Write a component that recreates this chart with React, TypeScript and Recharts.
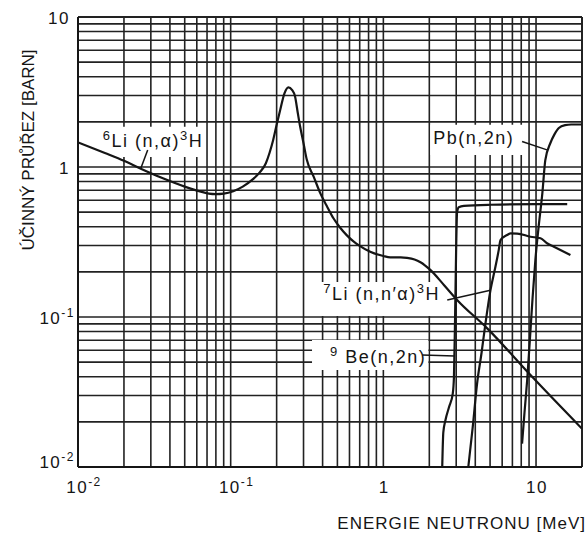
import React from 'react';
import {
    LineChart,
    Line,
    XAxis,
    YAxis,
    CartesianGrid,
    ReferenceArea,
    ReferenceLine
} from 'recharts';

// energies in MeV, cross sections in barn
const li6Energy = [0.01, 0.015, 0.02, 0.026, 0.035, 0.05, 0.062, 0.072, 0.08, 0.09, 0.104, 0.12, 0.14, 0.155, 0.17, 0.18, 0.19, 0.2, 0.211, 0.225, 0.239, 0.252, 0.264, 0.275, 0.285, 0.3, 0.315, 0.35, 0.386, 0.43, 0.471, 0.52, 0.577, 0.64, 0.7, 0.82, 1.0, 1.11, 1.3, 1.43, 1.6, 1.75, 2.03, 2.5, 3.04, 4.79, 9.2, 20];
const li6Sigma = [1.46, 1.24, 1.1, 0.97, 0.85, 0.74, 0.69, 0.665, 0.66, 0.665, 0.69, 0.74, 0.83, 0.92, 1.06, 1.25, 1.52, 1.91, 2.4, 3.1, 3.4, 3.27, 2.95, 2.3, 1.86, 1.44, 1.12, 0.86, 0.67, 0.54, 0.455, 0.395, 0.35, 0.318, 0.298, 0.272, 0.255, 0.25, 0.25, 0.248, 0.242, 0.232, 0.206, 0.163, 0.13, 0.084, 0.041, 0.018];

const be9Energy = [2.43, 2.47, 2.55, 2.69, 2.85, 2.9, 2.95, 3.0, 3.04, 3.12, 3.37, 5, 10, 16];
const be9Sigma = [0.01, 0.017, 0.0205, 0.025, 0.031, 0.04, 0.1, 0.3, 0.5, 0.54, 0.55, 0.56, 0.565, 0.565];

const li7Energy = [3.6, 3.85, 4.11, 4.4, 4.66, 5.03, 5.42, 5.7, 5.85, 6.47, 6.81, 7.53, 9.2, 10.7, 11.8, 13, 16.8];
const li7Sigma = [0.01, 0.0185, 0.036, 0.058, 0.09, 0.151, 0.216, 0.28, 0.326, 0.352, 0.361, 0.36, 0.343, 0.335, 0.31, 0.295, 0.259];

const pbEnergy = [8.1, 8.4, 8.75, 9.2, 9.5, 9.9, 10.4, 11.0, 11.5, 12.4, 13.2, 14.1, 15.5, 17, 20];
const pbSigma = [0.0143, 0.023, 0.038, 0.082, 0.136, 0.24, 0.4, 0.67, 1.11, 1.44, 1.65, 1.82, 1.9, 1.92, 1.92];

const xDecades = [0.01, 0.1, 1, 10];
const xDecadeLabels = [['10', '-2'], ['10', '-1'], ['1', ''], ['10', '']];
const yDecades = [0.01, 0.1, 1, 10];
const yDecadeLabels = [['10', '-2'], ['10', '-1'], ['1', ''], ['10', '']];

const xGrid = [0.01, 0.1, 1].flatMap(d => [1, 2, 3, 4, 5, 6, 7, 8, 9].map(k => +(k * d).toPrecision(3))).concat([10, 20]);
const yGrid = [0.01, 0.1, 1].flatMap(d => [1, 2, 3, 4, 5, 6, 7, 8, 9].map(k => +(k * d).toPrecision(3))).concat([10]);

const toPoints = (es: number[], ss: number[]) => es.map((e, i) => ({ e, s: ss[i] }));

const FONT = '"Liberation Sans", Arial, sans-serif';
const INK = '#151515';

type Part = [string, boolean];

// label boxes: [x1, x2, y1, y2] in MeV / barn, text parts, left pad, baseline from box top
const labels: { box: number[]; parts: Part[]; pad: number; base: number }[] = [
    { box: [0.01388, 0.0668, 1.168, 1.853], parts: [['6', true], ['Li (n,α)', false], ['3', true], ['H', false]], pad: 3, base: 20 },
    { box: [2.03, 8.41, 1.2, 1.91], parts: [['Pb(n,2n)', false]], pad: 3, base: 19 },
    { box: [0.374, 2.71, 0.1014, 0.171], parts: [['7', true], ['Li (n,n′α)', false], ['3', true], ['H', false]], pad: 5, base: 18 },
    { box: [0.341, 1.97, 0.0443, 0.0702], parts: [['9', true], [' Be(n,2n)', false]], pad: 18, base: 23 }
];

const leaders = [
    [[0.0286, 1.3], [0.0258, 0.98]],
    [[8.1, 1.48], [11.8, 1.3]],
    [[2.62, 0.13], [5.03, 0.151]],
    [[1.8, 0.0557], [2.93, 0.055]]
];

function RichText({ x, y, parts }: { x: number; y: number; parts: Part[] }) {
    let prevSup = false;
    return (
        <text x={x} y={y} fontFamily={FONT} fontSize={18} letterSpacing={1.5} fill={INK}>
            {parts.map(([t, sup], i) => {
                const dy = sup && !prevSup ? -7 : !sup && prevSup ? 7 : 0;
                prevSup = sup;
                return (
                    <tspan key={i} dy={dy} fontSize={sup ? 13 : 18} style={{ whiteSpace: 'pre' }}>
                        {t}
                    </tspan>
                );
            })}
        </text>
    );
}

const findDecade = (vals: number[], v: number) => vals.findIndex(d => Math.abs(d - v) / d < 1e-6);

const XTick = (props: any) => {
    const { x, y, payload } = props;
    const i = findDecade(xDecades, payload.value);
    if (i < 0) return <g />;
    const [base, exp] = xDecadeLabels[i];
    return (
        <text x={x + (exp ? 6 : 1)} y={y + 26} textAnchor="middle" fontFamily={FONT} fontSize={17} letterSpacing={1.5} fill={INK}>
            {base}
            {exp && <tspan dy={-7} fontSize={12}>{exp}</tspan>}
        </text>
    );
};

const YTick = (props: any) => {
    const { x, y, payload } = props;
    const i = findDecade(yDecades, payload.value);
    if (i < 0) return <g />;
    const [base, exp] = yDecadeLabels[i];
    const shift = payload.value === 0.01 ? -6 : 0;
    return (
        <text x={x - (exp ? 3 : 8)} y={y + 7 + shift} textAnchor="end" fontFamily={FONT} fontSize={17} letterSpacing={1.5} fill={INK}>
            {base}
            {exp && <tspan dy={-7} fontSize={12}>{exp}</tspan>}
        </text>
    );
};

export default function App() {
    return (
        <div style={{ position: 'absolute', left: 0, top: 0, background: '#fff' }}>
            <LineChart width={587} height={534} margin={{ top: 17, right: 5, bottom: 0, left: 0 }}>
                <CartesianGrid stroke="#222" strokeWidth={1.6} zIndex={-100} />
                <XAxis
                    dataKey="e"
                    type="number"
                    scale="log"
                    domain={[0.01, 20]}
                    allowDataOverflow
                    ticks={xGrid}
                    interval={0}
                    height={67}
                    tickSize={0}
                    tickMargin={0}
                    tickLine={false}
                    tick={<XTick />}
                    axisLine={{ stroke: INK, strokeWidth: 2 }}
                    label={{
                        content: (p: any) => {
                            const vb = p.viewBox;
                            return (
                                <text x={vb.x + vb.width + 4} y={vb.y + 62} textAnchor="end" fontFamily={FONT} fontSize={17} letterSpacing={1} fill={INK}>
                                    ENERGIE NEUTRONU [MeV]
                                </text>
                            );
                        }
                    }}
                />
                <YAxis
                    type="number"
                    scale="log"
                    domain={[0.01, 10]}
                    allowDataOverflow
                    ticks={yGrid}
                    interval={0}
                    width={78}
                    tickSize={0}
                    tickMargin={0}
                    tickLine={false}
                    tick={<YTick />}
                    axisLine={{ stroke: INK, strokeWidth: 2 }}
                    label={{
                        content: (p: any) => {
                            const vb = p.viewBox;
                            const cx = vb.x + 34;
                            const cy = vb.y + 133;
                            return (
                                <text x={cx} y={cy} transform={`rotate(-90 ${cx} ${cy})`} textAnchor="middle" fontFamily={FONT} fontSize={17} letterSpacing={0} fill={INK}>
                                    ÚČINNÝ PRŮŘEZ [BARN]
                                </text>
                            );
                        }
                    }}
                />
                <ReferenceLine y={10} stroke="#222" strokeWidth={2} zIndex={-90} />
                <ReferenceLine x={20} stroke="#222" strokeWidth={2} zIndex={-90} />
                {labels.map((l, i) => (
                    <ReferenceArea
                        key={`box-${i}`}
                        x1={l.box[0]}
                        x2={l.box[1]}
                        y1={l.box[2]}
                        y2={l.box[3]}
                        fill="#fff"
                        fillOpacity={1}
                        stroke="none"
                        zIndex={-50}
                        label={{
                            content: (p: any) => {
                                const vb = p.viewBox ?? p;
                                return <RichText x={vb.x + l.pad} y={vb.y + l.base} parts={l.parts} />;
                            }
                        }}
                    />
                ))}
                <Line data={toPoints(li6Energy, li6Sigma)} dataKey="s" type="monotone" stroke={INK} strokeWidth={2.2} dot={false} activeDot={false} isAnimationActive={false} />
                <Line data={toPoints(be9Energy, be9Sigma)} dataKey="s" type="monotone" stroke={INK} strokeWidth={2.2} dot={false} activeDot={false} isAnimationActive={false} />
                <Line data={toPoints(li7Energy, li7Sigma)} dataKey="s" type="monotone" stroke={INK} strokeWidth={2.2} dot={false} activeDot={false} isAnimationActive={false} />
                <Line data={toPoints(pbEnergy, pbSigma)} dataKey="s" type="monotone" stroke={INK} strokeWidth={2.2} dot={false} activeDot={false} isAnimationActive={false} />
                {leaders.map((seg, i) => (
                    <ReferenceLine
                        key={`lead-${i}`}
                        segment={[{ x: seg[0][0], y: seg[0][1] }, { x: seg[1][0], y: seg[1][1] }]}
                        stroke={INK}
                        strokeWidth={1.5}
                        zIndex={450}
                    />
                ))}
            </LineChart>
        </div>
    );
}
